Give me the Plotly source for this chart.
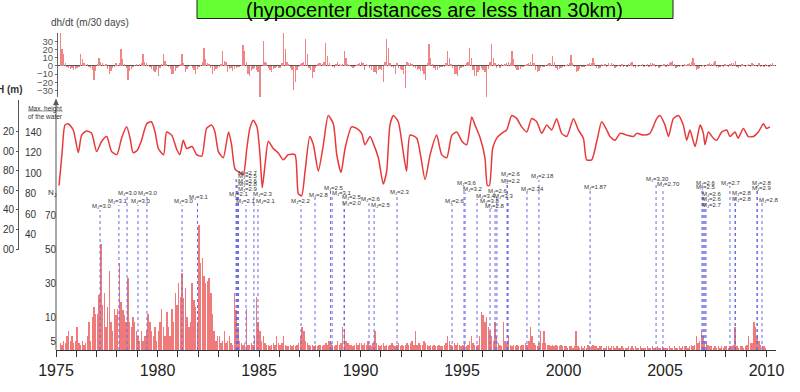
import numpy as np
import plotly.graph_objects as go

# ------------------------------------------------------------------ data
# dh/dt (m / 30 days), monthly values starting Jan 1975
dhdt_1975_1984 = [
    None, None, 40, 20, 15, 3, -2, -3, -4, -3, -5, -4,
    -3, -2, 15, 8, 3, 1, 2, -1, -3, -5, -17, -6,
    2, 10, 5, 3, 1, 2, -4, -10, -6, -3, -1, 4,
    1, 3, 20, 8, 2, -3, -17, -6, -4, -2, 1, 2,
    0, 2, 3, 15, 5, 3, 1, -2, -4, -6, -8, -5,
    -13, -3, 2, 15, 6, 2, -2, -4, -10, -10, -6, -3,
    -2, 2, 15, 3, -8, -4, -2, 1, -3, -5, -10, -4,
    -2, 1, 5, 22, 8, 3, 2, -3, -10, -6, -4, -3,
    -2, 2, 18, 6, 5, -8, -4, -3, -6, -4, -3, -1,
    -2, 1, 25, 18, 5, -10, -12, -6, -4, -3, -5, -8]
dhdt_1985_1994 = [
    -38, 0, 30, 5, 3, -3, -5, -8, -4, -3, -2, -3,
    -3, 3, 40, 20, 5, 2, -3, -5, -30, -20, -5, -2,
    2, 3, 5, 33, 15, -3, -5, -15, -8, -3, 2, 4,
    3, 2, 5, 28, 12, 3, 1, -2, -3, 2, 5, 2,
    1, 2, 18, 10, 2, 1, -2, -3, -2, 1, 2, 3,
    5, 3, -5, 2, 1, -3, -5, -8, -8, -10, -5, -4,
    -5, -20, 5, 33, 22, 3, -2, -3, -10, 3, -3, -4,
    -5, -10, -27, 5, 3, 3, 2, -2, -3, -5, -4, -6,
    -6, -10, -17, 3, 27, 10, 2, -3, -5, -5, -3, -2,
    -2, -1, 3, 18, 10, 2, -3, -10, -10, -12, -5, -3]
dhdt_1995_2004 = [
    -2, 1, 3, 5, 22, 10, -5, -12, -12, -8, -5, -3,
    -5, -8, -38, -4, 5, 27, 10, 3, -3, 2, -3, 2,
    1, 2, 3, 5, 4, 18, 8, -3, -5, -5, -4, -2,
    -2, 1, 2, 4, 5, 15, 4, -5, -8, -6, -3, -2,
    -1, 1, 2, 3, 4, 12, 5, -3, -5, -4, -3, -1,
    -1, 1, 2, 3, 13, 4, -2, -8, -6, -4, -2, -1,
    -2, 1, 2, 3, 4, 10, 3, -3, -4, -3, 2, 1,
    2, -2, 3, 1, 4, 2, -3, -2, 1, -1, 2, -2,
    1, -1, 2, 3, 5, -2, -3, 1, -2, 1, 2, -1,
    1, 2, -1, 3, 4, 2, -2, 1, -3, -2, 1, 2]
dhdt_2005_2010 = [
    -1, 2, 3, 5, 6, 2, -3, -2, -2, 1, -1, 2,
    1, 2, 3, 5, 9, 3, -5, -4, -3, -2, 1, -1,
    1, 2, 3, 2, 4, 6, -2, -3, -2, 1, -1, 2,
    1, -1, 2, 3, 4, 6, -2, -3, -1, 2, 1, -2,
    1, 2, -1, 3, 2, 1, -2, 3, -2, 1, -1, 2,
    1, -1, 2, 3, 1]

# Max. height of the water H (m): (time, value)
H_time_1975_1992 = [
    1975.15, 1975.30, 1975.44, 1975.60, 1975.85, 1976.10, 1976.26, 1976.50, 1976.75, 1977.00,
    1977.25, 1977.50, 1977.74, 1978.00, 1978.23, 1978.48, 1978.65, 1978.80, 1979.00, 1979.20,
    1979.47, 1979.70, 1979.88, 1980.04, 1980.30, 1980.45, 1980.70, 1980.95, 1981.10, 1981.27,
    1981.44, 1981.70, 1981.93, 1982.18, 1982.42, 1982.67, 1982.83, 1983.00, 1983.24, 1983.50,
    1983.65, 1983.82, 1984.06, 1984.23, 1984.40, 1984.55, 1984.72, 1984.90, 1985.05, 1985.16,
    1985.30, 1985.46, 1985.70, 1985.95, 1986.20, 1986.44, 1986.77, 1986.94, 1987.10, 1987.27,
    1987.50, 1987.68, 1987.92, 1988.17, 1988.41, 1988.66, 1988.83, 1989.04, 1989.24, 1989.56,
    1989.81, 1990.06, 1990.22, 1990.47, 1990.63, 1990.88, 1991.12, 1991.29, 1991.45, 1991.62,
    1991.86, 1992.10, 1992.27]
H_value_1975_1992 = [
    88, 120, 146.7, 148, 142, 120, 137, 141, 139, 121,
    131, 135.6, 121, 118, 134, 145, 134, 120, 122, 131,
    148, 150, 140, 124, 118, 140, 137, 123, 118, 132,
    124, 126, 118, 116.5, 143.5, 146.7, 140, 121, 115, 140,
    127.6, 104, 100.6, 99, 124, 143.5, 151.4, 145, 118, 86,
    108.6, 131, 124, 119.7, 113, 118, 118, 80, 78, 102,
    135.6, 127.6, 102, 127.6, 156, 148, 118, 100.6, 124, 145,
    143.5, 138.7, 127.6, 135.6, 129, 115, 89.5, 102, 146.7, 156,
    150, 121, 102]
H_time_1992_2010 = [
    1992.44, 1992.77, 1993.18, 1993.43, 1993.75, 1994.00, 1994.25, 1994.50, 1994.74, 1995.00,
    1995.23, 1995.48, 1995.64, 1995.90, 1996.13, 1996.25, 1996.35, 1996.51, 1996.71, 1996.95,
    1997.20, 1997.45, 1997.70, 1997.94, 1998.19, 1998.43, 1998.68, 1998.93, 1999.17, 1999.42,
    1999.66, 1999.91, 2000.16, 2000.49, 2000.73, 2000.98, 2001.14, 2001.39, 2001.64, 2001.88,
    2002.13, 2002.29, 2002.54, 2002.79, 2003.12, 2003.44, 2003.61, 2003.93, 2004.26, 2004.59,
    2004.75, 2005.00, 2005.17, 2005.41, 2005.66, 2005.90, 2006.07, 2006.23, 2006.48, 2006.73,
    2006.89, 2006.97, 2007.14, 2007.38, 2007.55, 2007.79, 2008.04, 2008.20, 2008.45, 2008.60,
    2008.86, 2009.10, 2009.35, 2009.60, 2009.85, 2010.00, 2010.17]
H_value_1992_2010 = [
    137, 134, 94, 118, 137, 118, 115, 137, 140, 131,
    127.6, 154.6, 146.7, 134, 115, 88, 88, 124, 134, 138.7,
    142, 156, 153, 145, 140, 153, 150, 138.7, 146.7, 142,
    153, 138.7, 135.6, 153, 142, 134, 113, 113, 131, 150,
    142, 135.6, 132, 138.7, 137, 135.6, 138.7, 137, 138.7, 153,
    156, 146.7, 135.6, 153, 156, 146.7, 132, 142, 126, 146.7,
    138.7, 127.6, 140, 134, 132, 140, 142, 135.6, 140, 134,
    143.5, 135.6, 135.6, 140, 148, 143.5, 145]

# monthly number of earthquakes, from Jan 1975
N_1975_1984 = [
    0, 0, 4, 3, 5, 4, 6, 7, 5, 6, 4, 5,
    8, 4, 3, 5, 3, 4, 6, 9, 5, 10, 16, 12,
    12, 23, 53, 17, 24, 8, 16, 37, 9, 7, 15, 11,
    15, 42, 19, 14, 11, 9, 33, 9, 8, 10, 9, 7,
    6, 5, 7, 5, 6, 7, 12, 9, 7, 6, 8, 5,
    7, 9, 15, 8, 6, 13, 8, 6, 15, 9, 24, 17,
    30, 22, 36, 21, 27, 10, 8, 9, 30, 20, 16, 9,
    64, 42, 45, 34, 30, 31, 33, 24, 12, 7, 5, 6,
    6, 4, 5, 7, 4, 5, 6, 4, 3, 24, 14, 8,
    5, 4, 3, 4, 15, 3, 3, 4, 3, 6, 22, 9]
N_1985_1994 = [
    7, 5, 6, 4, 3, 3, 2, 3, 4, 3, 6, 4,
    3, 4, 6, 3, 2, 2, 3, 2, 3, 2, 3, 4,
    6, 8, 7, 5, 4, 3, 2, 3, 2, 3, 2, 3,
    3, 2, 3, 4, 3, 5, 4, 3, 2, 3, 5, 3,
    4, 8, 7, 5, 4, 3, 3, 2, 3, 4, 3, 4,
    4, 3, 4, 3, 5, 3, 2, 4, 7, 4, 3, 2,
    3, 4, 2, 3, 2, 3, 4, 3, 2, 3, 4, 2,
    3, 2, 3, 4, 3, 4, 5, 3, 7, 3, 4, 3,
    3, 5, 4, 3, 2, 3, 2, 3, 2, 2, 3, 2,
    2, 3, 4, 6, 5, 3, 2, 4, 3, 4, 3, 2]
N_1995_2004 = [
    3, 4, 2, 3, 5, 6, 4, 3, 2, 3, 6, 13,
    11, 9, 10, 8, 7, 6, 5, 9, 6, 4, 3, 2,
    9, 5, 4, 6, 3, 2, 3, 2, 3, 2, 2, 3,
    3, 4, 3, 5, 8, 6, 4, 3, 2, 4, 7, 4,
    7, 4, 3, 3, 2, 3, 2, 3, 2, 2, 3, 2,
    2, 2, 1, 2, 2, 1, 2, 7, 2, 1, 2, 1,
    2, 1, 3, 2, 2, 3, 2, 2, 1, 2, 2, 1,
    1, 2, 2, 1, 2, 2, 1, 2, 1, 1, 2, 1,
    1, 1, 2, 1, 2, 1, 2, 1, 1, 2, 1, 1,
    1, 2, 1, 1, 2, 1, 1, 2, 1, 1, 2, 1]
N_2005_2009 = [
    1, 1, 2, 1, 1, 2, 1, 1, 2, 1, 2, 2,
    2, 1, 2, 3, 2, 3, 6, 4, 5, 7, 6, 5,
    5, 3, 2, 2, 1, 2, 1, 2, 1, 2, 1, 2,
    2, 1, 2, 2, 3, 8, 2, 1, 2, 2, 1, 2,
    3, 6, 4, 4, 9, 8, 6, 5, 3, 2, 2, 1]

# earthquakes (M_J) marked with dotted lines
event_years = [1977.17, 1978.10, 1978.50, 1979.04, 1979.48, 1981.21, 1981.97,
               1983.87, 1983.90, 1983.92, 1983.95, 1983.97, 1983.99, 1984.36, 1984.75, 1984.95,
               1987.07, 1987.76, 1988.52, 1988.60, 1989.19, 1989.21, 1990.42, 1990.67, 1991.80,
               1994.51, 1995.10, 1995.15, 1995.74, 1996.38, 1996.63, 1996.72,
               1997.22, 1997.24, 1997.27, 1998.20, 1998.79, 2001.31, 2004.56, 2004.90,
               2006.82, 2006.87, 2006.92, 2006.97, 2007.02, 2008.20, 2008.45, 2008.47,
               2009.53, 2009.55, 2009.78]
event_mags = ["3.0", "3.1", "3.0", "3.0", "3.0", "3.0", "3.1",
              "2.7", "2.5", "2.6", "2.8", "2.9", "2.1", "2.1", "2.3", "2.1",
              "2.2", "2.8", "2.5", "3.1", "2.5", "2.0", "2.6", "2.5", "2.3",
              "2.6", "3.6", "3.2", "3.4", "3.8", "2.8", "2.6",
              "2.6", "2.2", "3.3", "2.34", "2.18", "1.87", "3.30", "2.70",
              "2.6", "2.5", "2.6", "2.6", "2.7", "2.7", "2.8", "2.8",
              "2.8", "2.9", "2.8"]

dhdt_ticks = [-30, -20, -10, 0, 10, 20, 30]
H_ticks = [140, 120, 100, 80, 60, 40]
outer_tick_vals = [220, 200, 180, 160, 140, 120, 100]
outer_tick_text = ["20", "00", "80", "60", "40", "20", "00"]
N_ticks = [5, 10, 30, 50, 70]

# ------------------------------------------------------------------ layout helpers
FW, FH = 800, 392
def fx(p):
    return p / FW
def fy(p):
    return 1 - p / FH

X0_PX, PX_PER_YEAR = 56, 20.3
X_RANGE = [1975, 2010.45]
x_dom = [fx(X0_PX), fx(X0_PX + (X_RANGE[1] - X_RANGE[0]) * PX_PER_YEAR)]

# label placement for the event labels (pixel centres)
label_cx = [102, 118, 128, 141, 148, 184, 199,
            248, 248, 248, 248, 248, 239, 246, 263, 266,
            301, 319, 334, 342, 352, 352, 371, 381, 400,
            455, 467, 473, 486, 490, 495, 498,
            511, 511, 504, 532, 542, 595, 657, 668,
            706, 706, 712, 712, 712, 731, 742, 742,
            762, 762, 769]
label_cy = [207, 202, 193, 202, 193, 202, 197,
            173, 177, 181, 185, 189, 194, 202, 194, 202,
            202, 195, 188, 193, 197, 203, 199, 205, 192,
            201, 183, 190, 196, 201, 206, 191,
            174, 181, 196, 189, 177, 187, 179, 185,
            183, 187, 194, 199, 205, 183, 193, 199,
            183, 188, 200]

# broken vertical scale of the N panel: value -> pixel height above baseline
N_knot_v = [0, 5, 10, 80]
N_knot_h = [0, 9, 33, 152]
BASE_PX = 350

dhdt = dhdt_1975_1984 + dhdt_1985_1994 + dhdt_1995_2004 + dhdt_2005_2010
dhdt_x = [1975 + (i + 0.5) / 12 for i in range(len(dhdt))]
N_all = N_1975_1984 + N_1985_1994 + N_1995_2004 + N_2005_2009
N_x = [1975 + (i + 0.5) / 12 for i in range(len(N_all))]
N_h = np.interp(N_all, N_knot_v, N_knot_h)
N_tick_h = np.interp(N_ticks, N_knot_v, N_knot_h)

ev_x, ev_y = [], []
for yr, cy in zip(event_years, label_cy):
    ev_x += [yr, yr, None]
    ev_y += [0, BASE_PX - (cy + 3), None]

FONT = "Liberation Sans, Arial, sans-serif"

fig = go.Figure()
fig.add_trace(go.Bar(x=dhdt_x, y=dhdt, width=0.065, marker=dict(color="#f08585", line_width=0),
                     xaxis="x", yaxis="y"))
fig.add_trace(go.Scatter(x=H_time_1975_1992 + H_time_1992_2010,
                         y=H_value_1975_1992 + H_value_1992_2010,
                         mode="lines", line=dict(color="#e8393a", width=1.5, shape="spline", smoothing=0.6),
                         xaxis="x2", yaxis="y2"))
fig.add_trace(go.Scatter(x=[None], y=[None], mode="lines", xaxis="x2", yaxis="y4"))
fig.add_trace(go.Bar(x=N_x, y=N_h, width=0.07, marker=dict(color="#f07a7a", line_width=0),
                     xaxis="x3", yaxis="y3"))
fig.add_trace(go.Scatter(x=ev_x, y=ev_y, mode="lines",
                         line=dict(color="#6b6be6", width=1, dash="dot"),
                         xaxis="x3", yaxis="y3"))

annotations = []
for cx, cy, m in zip(label_cx, label_cy, event_mags):
    annotations.append(dict(xref="paper", yref="paper", x=fx(cx), y=fy(cy),
                            text="M<sub>J</sub>=" + m, showarrow=False,
                            xanchor="center", yanchor="middle",
                            font=dict(size=6, color="#333", family=FONT)))
annotations += [
    dict(xref="paper", yref="paper", x=fx(435), y=fy(9.5), text="(hypocenter distances are less than 30km)",
         showarrow=False, xanchor="center", yanchor="middle", font=dict(size=20, color="#000", family=FONT)),
    dict(xref="paper", yref="paper", x=fx(49), y=fy(22), text="dh/dt (m/30 days)", showarrow=False,
         xanchor="left", yanchor="middle", font=dict(size=10, color="#444", family=FONT)),
    dict(xref="paper", yref="paper", x=fx(-5), y=fy(89), text="<b>H (m)</b>", showarrow=False,
         xanchor="left", yanchor="middle", font=dict(size=10, color="#333", family=FONT)),
    dict(xref="paper", yref="paper", x=fx(45), y=fy(112), text="Max. height<br>of the water", showarrow=False,
         xanchor="center", yanchor="middle", font=dict(size=6.5, color="#333", family=FONT)),
    dict(xref="paper", yref="paper", x=fx(52), y=fy(193), text="N<sub>J</sub>", showarrow=False,
         xanchor="center", yanchor="middle", font=dict(size=8, color="#333", family=FONT)),
]

shapes = [
    dict(type="rect", xref="paper", yref="paper", x0=fx(197), x1=fx(673), y0=fy(18.5), y1=fy(-2),
         fillcolor="#66ff33", line=dict(color="#222", width=1), layer="below"),
    dict(type="line", xref="paper", yref="paper", x0=fx(56), x1=fx(56), y0=fy(101), y1=fy(BASE_PX),
         line=dict(color="#555", width=1)),
    dict(type="path", xref="paper", yref="paper",
         path=f"M {fx(53.5)} {fy(105)} L {fx(56)} {fy(99)} L {fx(58.5)} {fy(105)} Z",
         fillcolor="#555", line=dict(color="#555", width=0.5)),
    dict(type="line", xref="paper", yref="paper", x0=fx(28), x1=fx(63), y0=fy(111), y1=fy(111),
         line=dict(color="#666", width=0.6)),
]

fig.update_layout(
    template="none",
    width=FW, height=FH, margin=dict(l=0, r=0, t=0, b=0, pad=0), autosize=False,
    paper_bgcolor="white", plot_bgcolor="rgba(0,0,0,0)", showlegend=False,
    bargap=0, font=dict(family=FONT),
    xaxis=dict(domain=x_dom, range=X_RANGE, visible=False, anchor="y", automargin=False),
    yaxis=dict(domain=[fy(97), fy(33)], range=[-38, 40], anchor="free", position=fx(57), automargin=False,
               tickvals=dhdt_ticks, ticks="outside", ticklen=2, tickcolor="#666",
               showline=True, linecolor="#666", linewidth=1, showgrid=False,
               zeroline=True, zerolinecolor="#555", zerolinewidth=1,
               tickfont=dict(size=9.5, color="#555")),
    xaxis2=dict(domain=x_dom, range=X_RANGE, visible=False, anchor="y2", automargin=False),
    yaxis2=dict(domain=[fy(250), fy(100)], range=[25.4, 171.1], anchor="free", position=fx(21),
                automargin=False, side="left", ticklabelposition="inside", tickvals=H_ticks, ticks="",
                showline=False, showgrid=False, zeroline=False,
                tickfont=dict(size=10, color="#333")),
    yaxis4=dict(overlaying="y2", range=[98.97, 252.8], anchor="free", position=fx(18), automargin=False,
                side="left", tickvals=outer_tick_vals, ticktext=outer_tick_text,
                ticks="outside", ticklen=2, tickcolor="#555", showline=True, linecolor="#555",
                showgrid=False, zeroline=False, tickfont=dict(size=10, color="#333")),
    xaxis3=dict(domain=x_dom, range=X_RANGE, anchor="y3", tick0=1975, dtick=5, automargin=False,
                ticks="outside", ticklen=6, tickcolor="#333", showline=True, linecolor="#333",
                showgrid=False, zeroline=False, tickfont=dict(size=16, color="#222"),
                minor=dict(dtick=1, ticks="outside", ticklen=6, tickcolor="#333", showgrid=False)),
    yaxis3=dict(domain=[fy(BASE_PX), fy(165)], range=[0, BASE_PX - 165], anchor="free", position=fx(56),
                automargin=False, tickvals=list(N_tick_h), ticktext=[str(v) for v in N_ticks], ticks="",
                showline=False, showgrid=False, zeroline=False,
                tickfont=dict(size=10, color="#333")),
    annotations=annotations, shapes=shapes,
)

fig.write_html("out.html", config={"displayModeBar": False, "staticPlot": True},
               post_script="document.body.style.margin='0';document.body.style.padding='0';")
